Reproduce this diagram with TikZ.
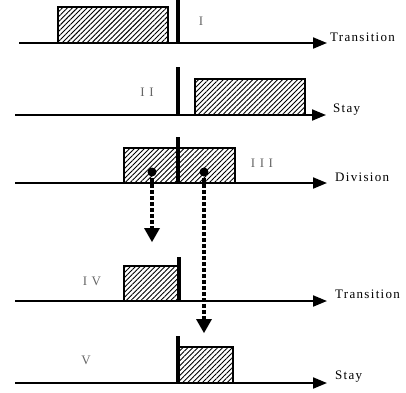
\documentclass[tikz,border=0pt]{standalone}
\usepackage{fontspec}
\setmainfont{Liberation Serif}
\usetikzlibrary{patterns.meta,arrows.meta}
\begin{document}
\begin{tikzpicture}[x=1pt,y=-1pt,
  axis/.style={line width=2pt,-{Triangle[length=14pt,width=11pt]}},
  hbox/.style={draw,line width=2pt,pattern={Lines[angle=45,distance=3.5pt,line width=0.9pt]}},
  bar/.style={line width=3.5pt},
  roman/.style={text=black!60,font=\fontsize{13}{13}\selectfont\addfontfeature{LetterSpace=35}},
  lab/.style={anchor=base west,inner sep=0pt,font=\fontsize{13}{13}\selectfont\addfontfeature{LetterSpace=10}},
  dot/.style={circle,fill=black,inner sep=0pt,minimum size=9pt},
  darrow/.style={line width=3.5pt,dash pattern=on 3.5pt off 2.5pt,-{Triangle[length=14pt,width=16pt,line width=0pt]}}]
\useasboundingbox (0,0) rectangle (406,392);
% Row I
\draw[hbox] (58,7) rectangle (168,43);
\draw[axis] (19,43) coordinate (a1) -- (327,43) coordinate (t1);
\draw[bar] (178,0) -- (178,44);
\node[roman] (r1) at (201,21) {I};
\node[lab] (l1) at (330,41) {Transition};
% Row II
\draw[hbox] (195,79) rectangle (305,115);
\draw[axis] (15,115) coordinate (a2) -- (326,115) coordinate (t2);
\draw[bar] (178,67) -- (178,116);
\node[roman] (r2) at (147,92) {II};
\node[lab] (l2) at (333,112) {Stay};
% Row III
\draw[hbox] (124,148) rectangle (235,183);
\draw[axis] (15,183) coordinate (a3) -- (327,183) coordinate (t3);
\draw[bar] (178,137) -- (178,184);
\node[roman] (r3) at (262,163) {III};
\node[lab] (l3) at (335,181) {Division};
\node[dot] (d1) at (152,172) {};
\node[dot] (d2) at (204,172) {};
\coordinate (e1) at (152,242);
\coordinate (e2) at (204,333);
\draw[darrow] (d1.center) -- (e1);
\draw[darrow] (d2.center) -- (e2);
% Row IV
\draw[hbox] (124,266) rectangle (180,301);
\draw[axis] (15,301) coordinate (a4) -- (327,301) coordinate (t4);
\draw[bar] (179,257) -- (179,302);
\node[roman] (r4) at (92,281) {IV};
\node[lab] (l4) at (335,298) {Transition};
% Row V
\draw[hbox] (179,347) rectangle (233,383);
\draw[axis] (15,383) coordinate (a5) -- (327,383) coordinate (t5);
\draw[bar] (178,336) -- (178,384);
\node[roman] (r5) at (86,360) {V};
\node[lab] (l5) at (335,379) {Stay};
\end{tikzpicture}
\end{document}
